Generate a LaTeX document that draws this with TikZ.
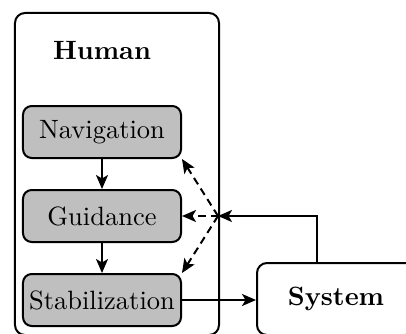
\documentclass[tikz,border=0pt]{standalone}
\usetikzlibrary{arrows.meta,calc}
\begin{document}
\begin{tikzpicture}[x=0.4pt,y=-0.4pt,
  font=\fontsize{10.6pt}{13pt}\selectfont,
  blk/.style={draw,thick,rounded corners=3.5pt,fill=lightgray,minimum width=63.2pt,minimum height=20.8pt,inner sep=0pt},
  outer/.style={draw,thick,rounded corners=4pt,inner sep=0pt},
  arr/.style={thick,-{Stealth[length=5.6pt,width=4.8pt,inset=1.4pt]}},
  darr/.style={arr,dash pattern=on 3pt off 2pt}]
\useasboundingbox (0,0) rectangle (406,333);
\clip (0,0) rectangle (406,333);
\node[outer,minimum width=81.6pt,minimum height=128.8pt] (human) at (117,174) {};
\node[font=\fontsize{10.6pt}{13pt}\selectfont\bfseries] (hl) at (102,50) {Human};
\node[blk] (nav) at (102,132) {Navigation};
\node[blk] (gui) at (102,216) {Guidance};
\node[blk] (stab) at (102,300) {Stabilization};
\node[outer,minimum width=63.2pt,minimum height=28.8pt,font=\fontsize{10.6pt}{13pt}\selectfont\bfseries] (sys) at (336,299) {System};
\coordinate (j) at (218,216);
\coordinate (fb) at (317,263);
\draw[arr] (nav) -- (gui);
\draw[arr] (gui) -- (stab);
\draw[arr] (stab.east) -- (stab.east -| sys.west);
\draw[arr] (fb) |- (j);
\draw[darr] (j) -- (nav.south east);
\draw[darr] (j) -- (gui.east);
\draw[darr] (j) -- (stab.north east);
\end{tikzpicture}
\end{document}
